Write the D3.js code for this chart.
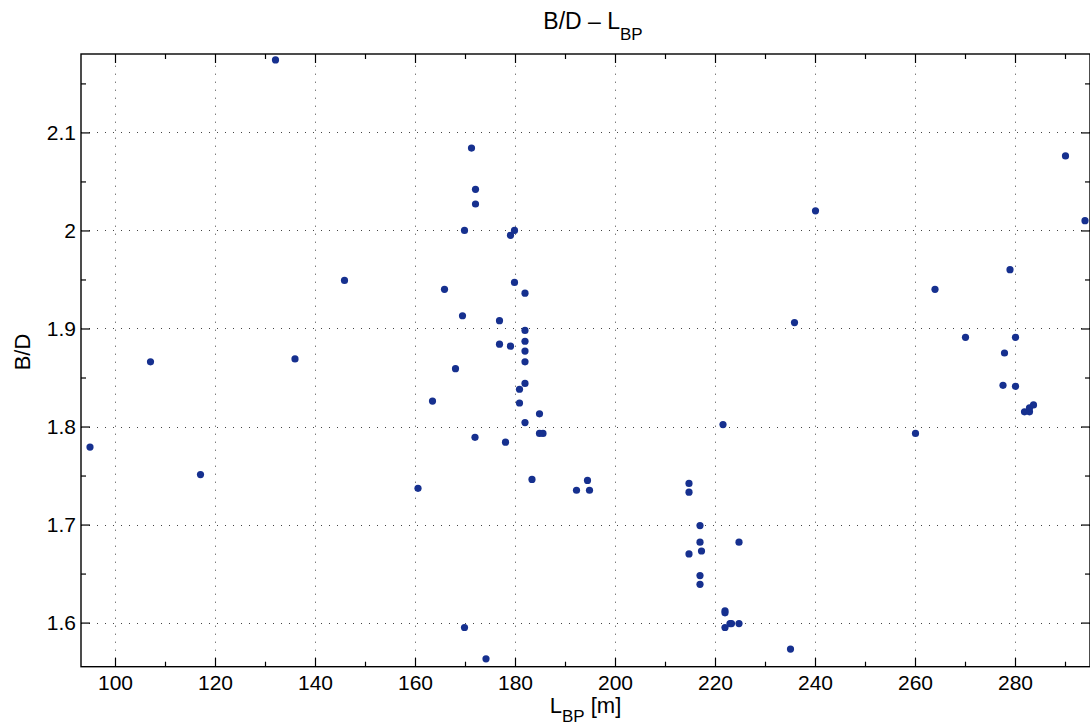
<!DOCTYPE html>
<html>
<head>
<meta charset="utf-8">
<script src="https://cdn.jsdelivr.net/npm/d3@7"></script>
<style>
  body { margin: 0; background: #fff; }
  svg { display: block; font-family: "Liberation Sans", Arial, Helvetica, sans-serif; }
</style>
</head>
<body>
<svg id="chart" width="1090" height="727"></svg>
<script>
// L_BP [m] of each ship
const lbp = [
  95.0, 107.1, 117.1, 132.1, 136.0, 145.9, 160.6, 163.5, 165.9, 168.1,
  169.5, 169.9, 169.9, 171.3, 172.0, 172.1, 172.1, 174.2, 176.9, 176.9,
  178.1, 179.1, 179.1, 179.9, 179.9, 180.9, 180.9, 182.0, 182.0, 182.0,
  182.0, 182.0, 182.0, 182.0, 183.4, 184.9, 184.9, 185.6, 192.3, 194.5,
  194.9, 214.8, 214.8, 214.8, 217.0, 217.0, 217.3, 217.0, 217.0, 221.6,
  222.0, 222.0, 222.0, 223.0, 223.3, 224.8, 224.8, 235.1, 235.9, 240.1,
  260.1, 264.0, 270.1, 277.6, 277.9, 279.0, 280.1, 280.1, 281.9, 282.9,
  282.9, 283.7, 290.1, 294.0
];

// B/D ratio, same order
const bd = [
  1.779, 1.866, 1.751, 2.174, 1.869, 1.949, 1.737, 1.826, 1.940, 1.859,
  1.913, 2.000, 1.595, 2.084, 1.789, 2.042, 2.027, 1.563, 1.908, 1.884,
  1.784, 1.995, 1.882, 2.000, 1.947, 1.838, 1.824, 1.936, 1.898, 1.887,
  1.877, 1.866, 1.844, 1.804, 1.746, 1.813, 1.793, 1.793, 1.735, 1.745,
  1.735, 1.742, 1.733, 1.670, 1.699, 1.682, 1.673, 1.648, 1.639, 1.802,
  1.612, 1.610, 1.595, 1.599, 1.599, 1.682, 1.599, 1.573, 1.906, 2.020,
  1.793, 1.940, 1.891, 1.842, 1.875, 1.960, 1.891, 1.841, 1.815, 1.815,
  1.819, 1.822, 2.076, 2.010
];

const xTicks = [100, 120, 140, 160, 180, 200, 220, 240, 260, 280];
const xMinor = [110, 130, 150, 170, 190, 210, 230, 250, 270, 290];
const yTicks = [1.6, 1.7, 1.8, 1.9, 2.0, 2.1];
const yMinor = [1.65, 1.75, 1.85, 1.95, 2.05, 2.15];
const xDomain = [93.2, 295];
const yDomain = [1.555, 2.18];

const box = { left: 81, right: 1090, top: 54, bottom: 666.7 };
const svg = d3.select("#chart");

const x = d3.scaleLinear().domain(xDomain).range([box.left, box.right]);
const y = d3.scaleLinear().domain(yDomain).range([box.bottom, box.top]);

// grid
const grid = svg.append("g")
  .attr("stroke", "#444")
  .attr("stroke-width", 1)
  .attr("stroke-dasharray", "1,7");

grid.selectAll(".gx").data(xTicks).join("line")
  .attr("x1", d => Math.round(x(d)) + 0.5).attr("x2", d => Math.round(x(d)) + 0.5)
  .attr("y1", box.bottom).attr("y2", box.top);

grid.selectAll(".gy").data(yTicks).join("line")
  .attr("y1", d => Math.round(y(d)) + 0.5).attr("y2", d => Math.round(y(d)) + 0.5)
  .attr("x1", box.left).attr("x2", box.right);

// axes: D3 axes with inward ticks on all four sides
function styleAxis(g) {
  g.select(".domain").remove();
  g.selectAll(".tick line").attr("stroke", "#000").attr("stroke-width", 1.2);
  g.selectAll(".tick text")
    .attr("fill", "#000")
    .attr("font-size", 21);
}

svg.append("g")
  .attr("transform", `translate(0,${box.bottom})`)
  .call(d3.axisBottom(x).tickValues(xTicks).tickSize(-9).tickPadding(3).tickFormat(d3.format("d")))
  .call(styleAxis)
  .selectAll(".tick text").attr("dy", "0.95em");

svg.append("g")
  .attr("transform", `translate(0,${box.bottom})`)
  .call(d3.axisBottom(x).tickValues(xMinor).tickSize(-5).tickFormat(""))
  .call(styleAxis);

svg.append("g")
  .attr("transform", `translate(0,${box.top})`)
  .call(d3.axisTop(x).tickValues(xTicks).tickSize(-9).tickFormat(""))
  .call(styleAxis);

svg.append("g")
  .attr("transform", `translate(0,${box.top})`)
  .call(d3.axisTop(x).tickValues(xMinor).tickSize(-5).tickFormat(""))
  .call(styleAxis);

svg.append("g")
  .attr("transform", `translate(${box.left},0)`)
  .call(d3.axisLeft(y).tickValues(yTicks).tickSize(-9).tickPadding(5).tickFormat(d => d === 2 ? "2" : d3.format(".1f")(d)))
  .call(styleAxis);

svg.append("g")
  .attr("transform", `translate(${box.left},0)`)
  .call(d3.axisLeft(y).tickValues(yMinor).tickSize(-5).tickFormat(""))
  .call(styleAxis);

svg.append("g")
  .attr("transform", `translate(${box.right},0)`)
  .call(d3.axisRight(y).tickValues(yTicks).tickSize(-9).tickFormat(""))
  .call(styleAxis);

svg.append("g")
  .attr("transform", `translate(${box.right},0)`)
  .call(d3.axisRight(y).tickValues(yMinor).tickSize(-5).tickFormat(""))
  .call(styleAxis);

// axes box
svg.append("rect")
  .attr("x", box.left).attr("y", box.top)
  .attr("width", box.right - box.left).attr("height", box.bottom - box.top)
  .attr("fill", "none")
  .attr("stroke", "#000")
  .attr("stroke-width", 1.4);

// points
svg.append("g")
  .selectAll("circle")
  .data(lbp.map((v, i) => [v, bd[i]]))
  .join("circle")
  .attr("cx", d => x(d[0]))
  .attr("cy", d => y(d[1]))
  .attr("r", 3.6)
  .attr("fill", "#16308f");

// title
const title = svg.append("text")
  .attr("x", 593)
  .attr("y", 29)
  .attr("text-anchor", "middle")
  .attr("font-size", 23);
title.append("tspan").text("B/D \u2013 L");
title.append("tspan").attr("dy", 11).attr("font-size", 17).text("BP");

// x label
const xl = svg.append("text")
  .attr("x", (box.left + box.right) / 2)
  .attr("y", 713)
  .attr("text-anchor", "middle")
  .attr("font-size", 22);
xl.append("tspan").text("L");
xl.append("tspan").attr("dy", 9).attr("font-size", 17).text("BP");
xl.append("tspan").attr("dy", -9).text(" [m]");

// y label
svg.append("text")
  .attr("transform", `translate(30,352) rotate(-90)`)
  .attr("text-anchor", "middle")
  .attr("font-size", 22)
  .text("B/D");
</script>
</body>
</html>
